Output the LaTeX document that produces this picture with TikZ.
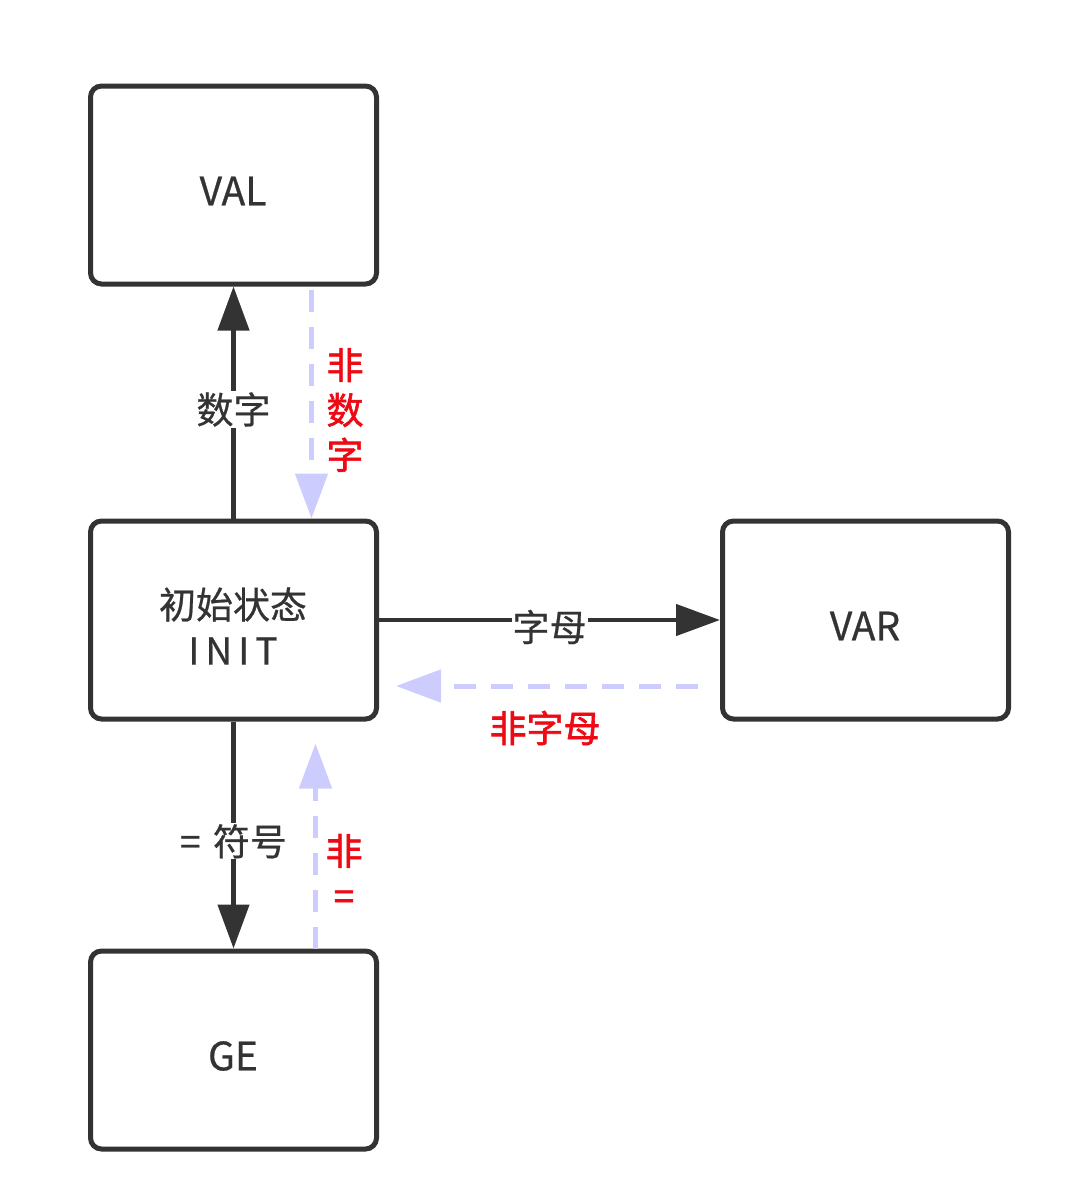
\documentclass[tikz,border=0pt]{standalone}
\usepackage{fontspec}
\setmainfont{Noto Sans CJK SC}[FakeBold=0.6]
\newfontfamily\redfont{Noto Sans CJK SC}[FakeBold=1.6]
\usetikzlibrary{arrows.meta}
\definecolor{dark}{HTML}{333333}
\definecolor{lav}{HTML}{CCCCFF}
\definecolor{redl}{HTML}{EE0A14}
\tikzset{
  box/.style={draw=dark, line width=5pt, rounded corners=11pt, minimum width=286pt, minimum height=198pt, align=center, text=dark, font=\fontsize{39}{46}\selectfont},
  boxtext/.style={text=dark, align=center, font=\fontsize{39}{46}\selectfont},
  arr/.style={draw=dark, line width=4.5pt, -{Triangle[length=44pt,width=31pt]}},
  darr/.style={draw=lav, line width=5pt, dash pattern=on 22pt off 15pt, -{Triangle[length=45pt,width=32pt]}},
  lbl/.style={fill=white, text=dark, inner sep=1pt, font=\fontsize{37}{45}\selectfont},
  rlbl/.style={text=redl, inner sep=1pt, align=center, font=\redfont\fontsize{37}{45}\selectfont}
}
\begin{document}
\begin{tikzpicture}[x=1pt,y=-1pt]
\useasboundingbox (0,0) rectangle (1080,1192);
\node[box] (val) at (233.5,185) {};
\node[box] (init) at (233.5,620) {};
\node[box] (var) at (865.5,620) {};
\node[box] (ge) at (233.5,1050) {};
\node[boxtext] (tval) at (233,191) {VAL};
\node[boxtext, font=\fontsize{37}{46}\selectfont] (tinit) at (233,626) {初始状态\\I\,N\,I\,T};
\node[boxtext] (tvar) at (865,626) {VAR};
\node[boxtext] (tge) at (233,1056) {GE};
% solid transitions
\draw[arr] (init.north) -- node[lbl, pos=0.47] {数字} (val.south);
\draw[arr] (init.east) -- node[lbl, pos=0.5, yshift=-7pt] {字母} (var.west);
\draw[arr] (init.south) -- node[lbl, pos=0.51, yshift=-4pt] {=\,\,符号} (ge.north);
% dashed back transitions
\draw[darr, shorten <=3pt] ([xshift=78pt]val.south) -- ([xshift=78pt]init.north);
\draw[darr, shorten <=22pt, shorten >=17pt] ([yshift=-66pt]var.west) -- ([yshift=-66pt]init.east);
\draw[darr, shorten >=22pt] ([xshift=82pt]ge.north) -- ([xshift=82pt]init.south);
% red labels
\node[rlbl] (l1) at (345,410) {非\\数\\字};
\node[rlbl] (l2) at (545,728) {非字母};
\node[rlbl] (l3) at (344,872) {非\\=};
\end{tikzpicture}
\end{document}
